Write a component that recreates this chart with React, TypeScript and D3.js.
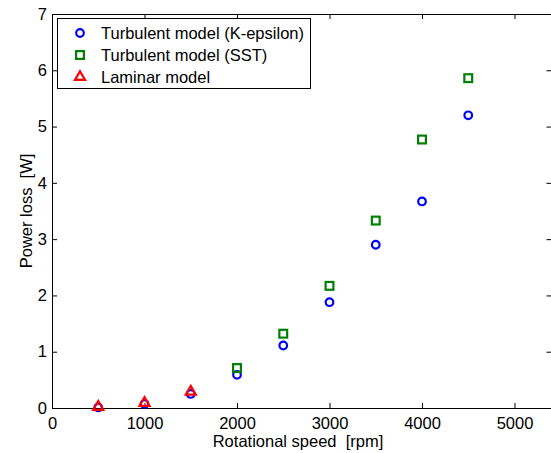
import React, { useEffect, useRef } from "react"
import * as d3 from "d3"

// rotational speed [rpm]
const speedTurb = [500, 1000, 1500, 2000, 2500, 3000, 3500, 4000, 4500]
const kEpsilon = [0.01, 0.07, 0.25, 0.59, 1.11, 1.88, 2.9, 3.67, 5.2]
const speedSst = [2000, 2500, 3000, 3500, 4000, 4500]
const sst = [0.71, 1.32, 2.17, 3.33, 4.77, 5.86]
const speedLam = [500, 1000, 1500]
const laminar = [0.02, 0.09, 0.29]

const xTicks = [0, 1000, 2000, 3000, 4000, 5000]
const yTicks = [0, 1, 2, 3, 4, 5, 6, 7]
const legendLabels = ["Turbulent model (K-epsilon)", "Turbulent model (SST)", "Laminar model"]

const W = 551
const H = 453
const FONT = "'Liberation Sans', Arial, sans-serif"
const FS = 16.5

export default function App() {
  const ref = useRef<SVGSVGElement>(null)

  useEffect(() => {
    const svg = d3.select(ref.current)
    svg.selectAll("*").remove()

    const left = 52
    const right = 551.5
    const top = 14
    const bottom = 408

    const x = d3.scaleLinear().domain([0, 5400]).range([left, right])
    const y = d3.scaleLinear().domain([0, 7]).range([bottom, top])

    svg.append("rect").attr("width", W).attr("height", H).attr("fill", "#fff")

    const styleAxis = (g: any) => {
      g.selectAll("path").attr("stroke", "#000").attr("stroke-width", 1)
      g.selectAll("line").attr("stroke", "#000")
      g.selectAll("text").attr("font-family", FONT).attr("font-size", FS).attr("fill", "#000")
    }

    svg.append("g")
      .attr("transform", `translate(0,${bottom})`)
      .call(d3.axisBottom(x).tickValues(xTicks).tickSize(-5).tickSizeOuter(0).tickPadding(9).tickFormat(d3.format("d")))
      .call(styleAxis)
    svg.append("g")
      .attr("transform", `translate(0,${top})`)
      .call(d3.axisTop(x).tickValues(xTicks).tickSize(-5).tickSizeOuter(0).tickFormat(() => ""))
      .call(styleAxis)
    svg.append("g")
      .attr("transform", `translate(${left},0)`)
      .call(d3.axisLeft(y).tickValues(yTicks).tickSize(-5).tickSizeOuter(0).tickPadding(5).tickFormat(d3.format("d")))
      .call(styleAxis)
    svg.append("g")
      .attr("transform", `translate(${right},0)`)
      .call(d3.axisRight(y).tickValues(yTicks).tickSize(-5).tickSizeOuter(0).tickFormat(() => ""))
      .call(styleAxis)

    // axis labels
    svg.append("text")
      .attr("x", 298)
      .attr("y", 447)
      .attr("text-anchor", "middle")
      .attr("font-family", FONT)
      .attr("font-size", FS)
      .attr("xml:space", "preserve")
      .text("Rotational speed  [rpm]")
    svg.append("text")
      .attr("transform", `translate(32,${(top + bottom) / 2}) rotate(-90)`)
      .attr("text-anchor", "middle")
      .attr("font-family", FONT)
      .attr("font-size", FS)
      .attr("xml:space", "preserve")
      .text("Power loss  [W]")

    const circle = (g: any, cx: number, cy: number) =>
      g.append("circle").attr("cx", cx).attr("cy", cy).attr("r", 3.8)
        .attr("fill", "none").attr("stroke", "#0000ff").attr("stroke-width", 2.2)
    const square = (g: any, cx: number, cy: number) =>
      g.append("rect").attr("x", cx - 3.9).attr("y", cy - 3.9).attr("width", 7.8).attr("height", 7.8)
        .attr("fill", "none").attr("stroke", "#008000").attr("stroke-width", 2.2)
    const triangle = (g: any, cx: number, cy: number) =>
      g.append("path")
        .attr("d", d3.symbol(d3.symbolTriangle, 44)())
        .attr("transform", `translate(${cx},${cy})`)
        .attr("fill", "none").attr("stroke", "#ff0000").attr("stroke-width", 2.2)

    const pts = svg.append("g")
    speedTurb.forEach((s, i) => circle(pts, x(s), y(kEpsilon[i])))
    speedSst.forEach((s, i) => square(pts, x(s), y(sst[i])))
    speedLam.forEach((s, i) => triangle(pts, x(s), y(laminar[i])))

    // legend
    const lg = svg.append("g")
    lg.append("rect").attr("x", 57.5).attr("y", 18.5).attr("width", 253).attr("height", 70)
      .attr("fill", "#fff").attr("stroke", "#000").attr("stroke-width", 1)
    const markers = [circle, square, triangle]
    legendLabels.forEach((label, i) => {
      const cy = 33 + i * 22
      markers[i](lg, 80, cy)
      lg.append("text")
        .attr("x", 101)
        .attr("y", cy + 6)
        .attr("font-family", FONT)
        .attr("font-size", FS)
        .text(label)
    })
  }, [])

  return (
    <svg
      ref={ref}
      width={W}
      height={H}
      style={{ position: "absolute", left: 0, top: 0, display: "block" }}
    />
  )
}
